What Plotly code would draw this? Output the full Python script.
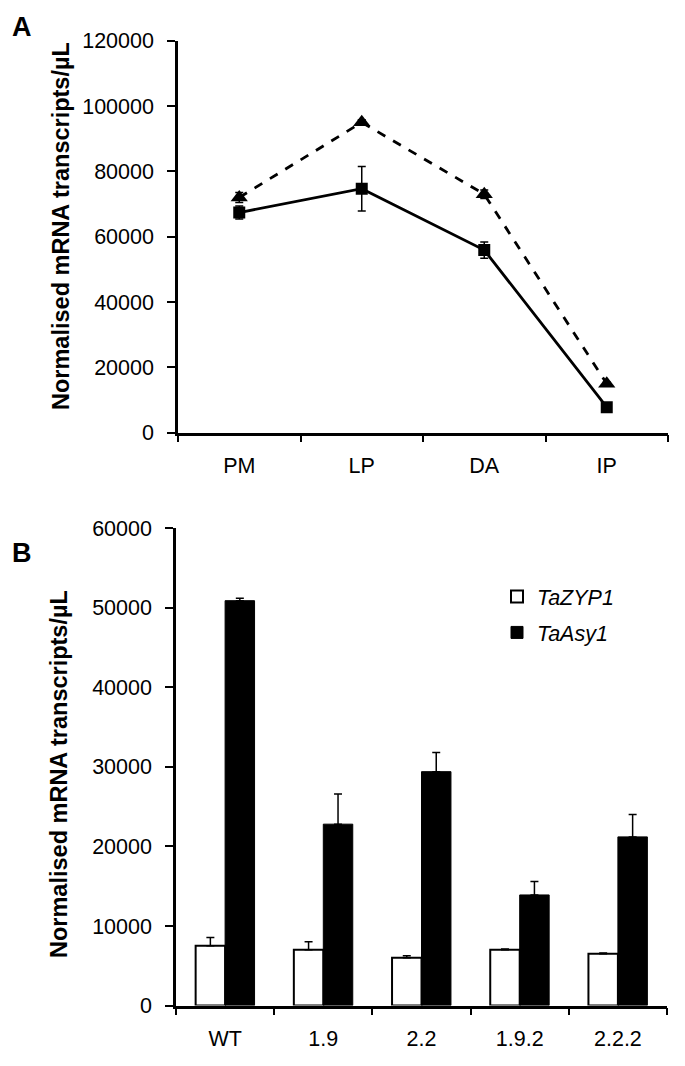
import plotly.graph_objects as go

# ---------- Panel A data ----------
stages = ["PM", "LP", "DA", "IP"]
zyp1_stage = [67400, 74700, 55900, 7800]
zyp1_stage_err = [2000, 6800, 2500, 500]
asy1_stage = [72000, 95000, 73000, 15000]
asy1_stage_err = [1500, 800, 1300, 500]

# ---------- Panel B data ----------
lines = ["WT", "1.9", "2.2", "1.9.2", "2.2.2"]
zyp1_line = [7500, 7000, 6000, 7000, 6500]
zyp1_line_err = [1050, 1000, 250, 100, 100]
asy1_line = [50900, 22800, 29400, 13900, 21200]
asy1_line_err = [300, 3800, 2400, 1700, 2800]

# page body margin of the browser is 8 px; the figure is offset by it
OFF = 8
W, H = 685 - 2 * OFF, 1066 - 2 * OFF
FONT = "Liberation Sans, Arial, sans-serif"


def px_x(p):
    return (p - OFF) / W


def px_y(p):
    return 1 - (p - OFF) / H


fig = go.Figure()

# Panel A lines
fig.add_trace(go.Scatter(
    x=stages, y=asy1_stage, mode="lines+markers",
    line=dict(color="black", width=2.8, dash="dash"),
    marker=dict(symbol="triangle-up", size=15, color="black"),
    error_y=dict(type="data", array=asy1_stage_err, color="black", thickness=1.5, width=4),
    xaxis="x", yaxis="y", showlegend=False))
fig.add_trace(go.Scatter(
    x=stages, y=zyp1_stage, mode="lines+markers",
    line=dict(color="black", width=2.8),
    marker=dict(symbol="square", size=12, color="black"),
    error_y=dict(type="data", array=zyp1_stage_err, color="black", thickness=1.5, width=4),
    xaxis="x", yaxis="y", showlegend=False))

# Panel B bars
fig.add_trace(go.Bar(
    x=lines, y=zyp1_line, name="<i>TaZYP1</i>", legendgroup="z",
    marker=dict(color="white", line=dict(color="black", width=2)),
    error_y=dict(type="data", array=zyp1_line_err, arrayminus=[0]*len(lines),
                 symmetric=False, color="black", thickness=1.5, width=4),
    xaxis="x2", yaxis="y2"))
fig.add_trace(go.Bar(
    x=lines, y=asy1_line, name="<i>TaAsy1</i>", legendgroup="a",
    marker=dict(color="black", line=dict(color="black", width=1)),
    error_y=dict(type="data", array=asy1_line_err, arrayminus=[0]*len(lines),
                 symmetric=False, color="black", thickness=1.5, width=4),
    xaxis="x2", yaxis="y2"))

TICKFONT = dict(family=FONT, size=21.5, color="black")
common_x = dict(type="category", tickson="boundaries", ticks="outside", ticklen=7,
                tickwidth=2, tickcolor="black", showline=True, linecolor="black",
                linewidth=2.5, showgrid=False, zeroline=False, automargin=False,
                ticklabelstandoff=12, tickfont=TICKFONT)
common_y = dict(ticks="outside", ticklen=8, tickwidth=2, tickcolor="black",
                showline=True, linecolor="black", linewidth=2.5, showgrid=False,
                zeroline=False, automargin=False, tickformat="d",
                ticklabelstandoff=9, tickfont=TICKFONT)

TITLE = "<b>Normalised mRNA transcripts/µL</b>"
ann_common = dict(xref="paper", yref="paper", showarrow=False,
                  xanchor="center", yanchor="middle")

fig.update_layout(
    width=W, height=H,
    margin=dict(l=0, r=0, t=0, b=0),
    paper_bgcolor="white", plot_bgcolor="white",
    barmode="group", bargap=0.4, bargroupgap=0,
    font=dict(family=FONT, color="black"),
    xaxis=dict(common_x, domain=[px_x(178), px_x(668)], anchor="y",
               categoryorder="array", categoryarray=stages, range=[-0.5, 3.5]),
    yaxis=dict(common_y, domain=[px_y(432.7), px_y(40.7)], anchor="x",
               range=[0, 120000], dtick=20000),
    xaxis2=dict(common_x, domain=[px_x(176), px_x(667)], anchor="y2",
                categoryorder="array", categoryarray=lines, range=[-0.5, 4.5]),
    yaxis2=dict(common_y, domain=[px_y(1005.5), px_y(528.3)], anchor="x2",
                range=[0, 60000], dtick=10000),
    legend=dict(x=px_x(497), y=px_y(576), xanchor="left", yanchor="top",
                font=dict(family=FONT, size=21.5, color="black"),
                bgcolor="rgba(0,0,0,0)", itemwidth=30, tracegroupgap=5),
    annotations=[
        dict(ann_common, text="<b>A</b>", x=px_x(22), y=px_y(27),
             font=dict(family=FONT, size=27, color="black")),
        dict(ann_common, text="<b>B</b>", x=px_x(22), y=px_y(553),
             font=dict(family=FONT, size=27, color="black")),
        dict(ann_common, text=TITLE, x=px_x(61), y=px_y(226), textangle=-90,
             font=dict(family=FONT, size=23.5, color="black")),
        dict(ann_common, text=TITLE, x=px_x(59), y=px_y(774), textangle=-90,
             font=dict(family=FONT, size=23.5, color="black")),
    ],
)

fig.write_html("out.html")
